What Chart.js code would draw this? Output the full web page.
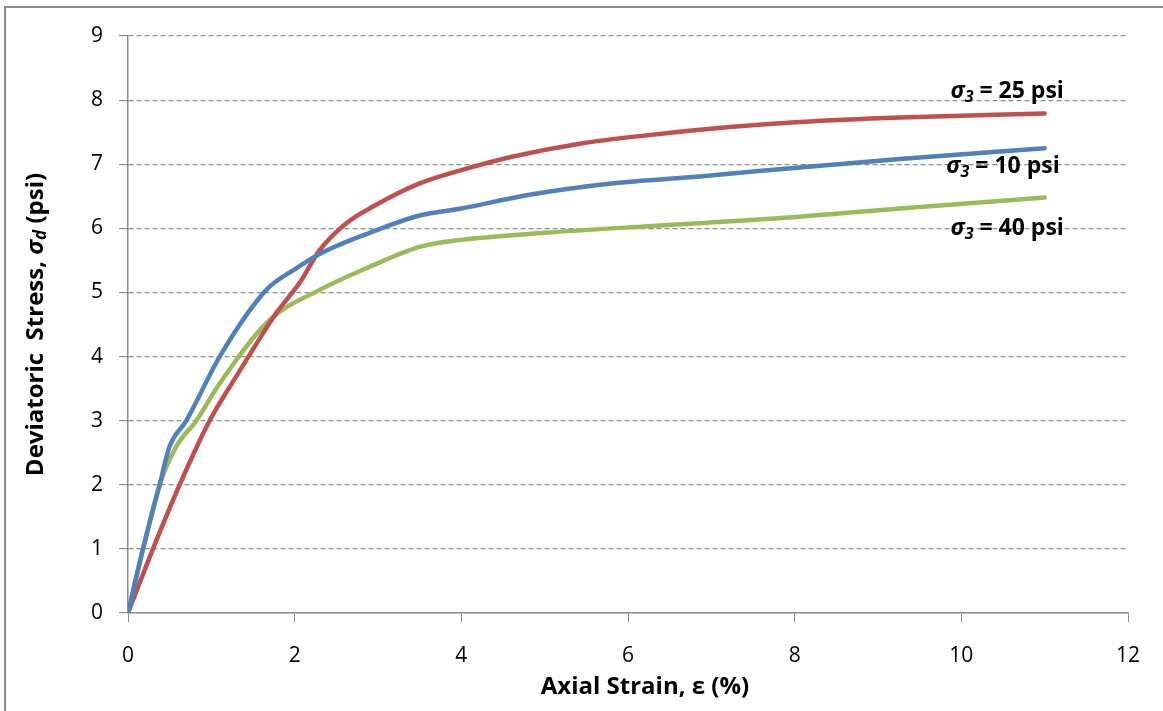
<!DOCTYPE html>
<html>
<head>
<meta charset="utf-8">
<script src="https://cdn.jsdelivr.net/npm/chart.js@4/dist/chart.umd.min.js"></script>
<style>
  html, body { margin: 0; padding: 0; background: #fff; }
  #wrap { width: 1163px; height: 711px; position: relative; }
</style>
</head>
<body>
<div id="wrap"><canvas id="chart" width="1163" height="711"></canvas></div>
<script>
// strain (%) and deviatoric stress (psi)
const strain10 = [0, 0.18, 0.38, 0.5, 0.7, 1.1, 1.66, 2.0, 2.3, 2.9, 3.5, 4.0, 4.8, 5.8, 6.86, 8.06, 9.26, 11.0];
const stress10 = [0, 1.0, 2.0, 2.6, 3.0, 4.0, 5.04, 5.36, 5.6, 5.93, 6.2, 6.31, 6.52, 6.7, 6.81, 6.95, 7.08, 7.25];

const strain25 = [0, 0.3, 0.62, 0.98, 1.3, 1.78, 2.06, 2.3, 2.62, 2.94, 3.5, 3.98, 4.62, 5.42, 6.22, 7.22, 8.06, 9.26, 11.0];
const stress25 = [0, 1.0, 2.0, 3.0, 3.69, 4.68, 5.15, 5.66, 6.08, 6.34, 6.7, 6.9, 7.12, 7.32, 7.45, 7.58, 7.66, 7.73, 7.79];

const strain40 = [0, 0.18, 0.38, 0.58, 0.82, 1.1, 1.7, 2.3, 2.9, 3.5, 4.0, 5.0, 6.2, 6.86, 8.06, 9.26, 11.0];
const stress40 = [0, 1.0, 2.0, 2.6, 3.0, 3.58, 4.57, 5.04, 5.4, 5.71, 5.82, 5.93, 6.03, 6.08, 6.18, 6.31, 6.48];

// curve labels (text after the sigma) and where they sit, in data units
const labelText = ['= 25 psi', '= 10 psi', '= 40 psi'];
const labelX = [10.55, 10.5, 10.55];
const labelY = [8.13, 6.97, 6.0];

const FONT = '"Open Sans", Lato, sans-serif';

const pts = (xs, ys) => xs.map((x, i) => ({ x: x, y: ys[i] }));

// draws a run of text pieces with different fonts, centred on (x, y)
function drawRich(ctx, parts, x, y) {
  let total = 0;
  parts.forEach(p => { ctx.font = p.font; total += ctx.measureText(p.t).width; });
  let cx = x - total / 2;
  ctx.textBaseline = 'middle';
  ctx.textAlign = 'left';
  parts.forEach(p => {
    ctx.font = p.font;
    ctx.fillText(p.t, cx, y + (p.dy || 0));
    cx += ctx.measureText(p.t).width;
  });
}

const textPlugin = {
  id: 'texts',
  beforeDraw(chart) {
    const ctx = chart.ctx;
    ctx.save();
    ctx.fillStyle = '#fff';
    ctx.fillRect(0, 0, chart.width, chart.height);
    ctx.strokeStyle = '#8c8c8c';
    ctx.lineWidth = 2;
    ctx.strokeRect(5, 7, chart.width + 20, chart.height + 20);
    ctx.restore();
  },
  afterDraw(chart) {
    const ctx = chart.ctx;
    const area = chart.chartArea;
    const xs = chart.scales.x, ys = chart.scales.y;
    ctx.save();
    ctx.fillStyle = '#000';

    // x title
    drawRich(ctx, [
      { t: 'Axial Strain, \u03b5 (%)', font: 'bold 24px ' + FONT }
    ], (area.left + area.right) / 2 + 17, 687);

    // y title, rotated
    ctx.save();
    ctx.translate(36, (area.top + area.bottom) / 2);
    ctx.rotate(-Math.PI / 2);
    drawRich(ctx, [
      { t: 'Deviatoric  Stress, ', font: 'bold 24px ' + FONT },
      { t: '\u03c3', font: 'italic bold 24px ' + FONT },
      { t: 'd', font: 'italic bold 17px ' + FONT, dy: 5 },
      { t: ' (psi)', font: 'bold 24px ' + FONT }
    ], 0, 0);
    ctx.restore();

    // curve labels
    labelText.forEach((t, i) => {
      drawRich(ctx, [
        { t: '\u03c3', font: 'italic bold 23px ' + FONT },
        { t: '3', font: 'italic bold 16px ' + FONT, dy: 6 },
        { t: ' ' + t, font: 'bold 23px ' + FONT }
      ], xs.getPixelForValue(labelX[i]), ys.getPixelForValue(labelY[i]));
    });
    ctx.restore();
  }
};

const line = (data, color) => ({
  data: data,
  showLine: true,
  borderColor: color,
  backgroundColor: color,
  borderWidth: 4.5,
  pointRadius: 0,
  cubicInterpolationMode: 'monotone',
  borderCapStyle: 'round',
  fill: false
});

new Chart(document.getElementById('chart'), {
  type: 'scatter',
  data: {
    datasets: [
      line(pts(strain10, stress10), '#4F81BD'),
      line(pts(strain25, stress25), '#C0504D'),
      line(pts(strain40, stress40), '#9BBB59')
    ]
  },
  options: {
    responsive: false,
    animation: false,
    layout: { padding: { left: 48, right: 35, top: 36, bottom: 38 } },
    plugins: { legend: { display: false }, tooltip: { enabled: false } },
    scales: {
      x: {
        type: 'linear',
        min: 0, max: 12,
        afterFit: s => { s.height = 60; },
        ticks: { stepSize: 2, color: '#000', padding: 21, font: { family: FONT, size: 21 } },
        grid: { drawOnChartArea: false, color: '#8c8c8c', tickLength: 9 },
        border: { color: '#8c8c8c', width: 1.5 }
      },
      y: {
        min: 0, max: 9,
        afterFit: s => { s.width = 80; },
        ticks: { stepSize: 1, color: '#000', padding: 16, font: { family: FONT, size: 21 } },
        grid: { color: '#8c8c8c', lineWidth: 1.2, tickLength: 9, tickBorderDash: [] },
        border: { color: '#8c8c8c', width: 1.5, dash: [5, 3] }
      }
    }
  },
  plugins: [textPlugin]
});
</script>
</body>
</html>
